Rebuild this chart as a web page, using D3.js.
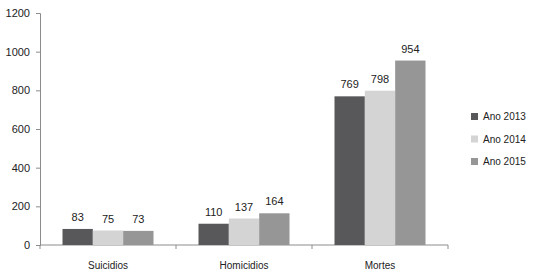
<!DOCTYPE html>
<html>
<head>
<meta charset="utf-8">
<script src="https://cdn.jsdelivr.net/npm/d3@7"></script>
<style>
  body { margin: 0; background: #fff; }
  text { font-family: "Liberation Sans", Arial, sans-serif; fill: #222; }
</style>
</head>
<body>
<div id="chart"></div>
<script>
// data
const categories = ["Suicidios", "Homicidios", "Mortes"]
const years = ["Ano 2013", "Ano 2014", "Ano 2015"]
const values2013 = [83, 110, 769]
const values2014 = [75, 137, 798]
const values2015 = [73, 164, 954]
const yTicks = [0, 200, 400, 600, 800, 1000, 1200]
const colors = ["#58585a", "#d4d4d4", "#969696"]

const series = [values2013, values2014, values2015]

const margin = {top: 13, right: 91, bottom: 30, left: 40},
    width = 539 - margin.left - margin.right,
    height = 275 - margin.top - margin.bottom;

const svg = d3.select("#chart")
  .append("svg")
    .attr("width", 539)
    .attr("height", 275)
  .append("g")
    .attr("transform", `translate(${margin.left}, ${margin.top})`);

const xScale = d3.scaleBand().domain(categories).range([0, 408]).padding(0)
const yScale = d3.scaleLinear().domain([0, 1200]).range([232, 0])

const xInner = d3.scaleBand().domain(d3.range(years.length))
    .range([xScale.bandwidth() / 2 - 45.5, xScale.bandwidth() / 2 + 45.5])

// y axis
const yAxis = svg.append("g")
  .call(d3.axisLeft(yScale).tickValues(yTicks).tickFormat(d3.format("d")).tickSize(4).tickPadding(6))
yAxis.selectAll("text").style("font-size", "11px").attr("fill", "#222")
yAxis.select(".domain").attr("stroke", "#8c8c8c")
yAxis.selectAll(".tick line").attr("stroke", "#8c8c8c")

// x axis with ticks at the band edges
const xAxis = svg.append("g").attr("transform", `translate(0, 232)`)
xAxis.append("line")
  .attr("x1", 0).attr("x2", 408)
  .attr("stroke", "#8c8c8c")
xAxis.selectAll(".edge")
  .data(categories.concat(["end"]))
  .enter()
  .append("line")
  .attr("x1", (d, i) => i < categories.length ? xScale(d) : 408)
  .attr("x2", (d, i) => i < categories.length ? xScale(d) : 408)
  .attr("y1", 0).attr("y2", 4)
  .attr("stroke", "#8c8c8c")
xAxis.selectAll(".cat")
  .data(categories)
  .enter()
  .append("text")
  .attr("x", d => xScale(d) + xScale.bandwidth() / 2)
  .attr("y", 24)
  .attr("text-anchor", "middle")
  .style("font-size", "10px")
  .text(d => d)

// bars
series.forEach((vals, s) => {
  const g = svg.append("g")
  g.selectAll("rect")
    .data(vals)
    .enter()
    .append("rect")
    .attr("x", (d, i) => xScale(categories[i]) + xInner(s))
    .attr("y", d => yScale(d))
    .attr("width", xInner.bandwidth())
    .attr("height", d => 232 - yScale(d))
    .attr("fill", colors[s])
  g.selectAll("text")
    .data(vals)
    .enter()
    .append("text")
    .attr("x", (d, i) => xScale(categories[i]) + xInner(s) + xInner.bandwidth() / 2)
    .attr("y", d => yScale(d) - 8)
    .attr("text-anchor", "middle")
    .style("font-size", "11px")
    .text(d => d)
})

// legend
const legend = svg.append("g").attr("transform", `translate(431, 100)`)
years.forEach((y, i) => {
  legend.append("rect")
    .attr("x", 0).attr("y", i * 22.5)
    .attr("width", 7).attr("height", 7)
    .attr("fill", colors[i])
  legend.append("text")
    .attr("x", 12).attr("y", i * 22.5 + 7)
    .style("font-size", "10px")
    .text(y)
})
</script>
</body>
</html>
